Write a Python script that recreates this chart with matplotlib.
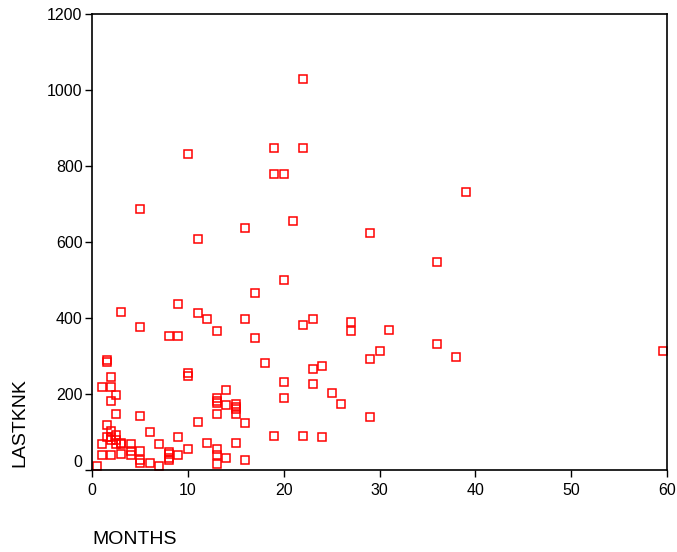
import matplotlib
matplotlib.use('Agg')
import matplotlib.pyplot as plt

plt.rcParams['font.family'] = ['Liberation Sans', 'DejaVu Sans']

# MONTHS vs LASTKNK
months = [22, 10, 19, 22, 19, 20, 39, 21, 5, 11, 16, 29, 36, 20, 17, 9, 3, 11, 12, 16,
          23, 27, 22, 27, 31, 5, 13, 8, 9, 17, 36, 30, 38, 29, 18, 24, 23, 20, 23, 25,
          20, 26, 29, 19, 22, 24, 59.6,
          1.5, 1.5, 2, 1, 2, 2.5, 2, 2.5, 1.5, 2, 1.5, 2, 2, 2.5, 2.5, 1, 2.5, 3, 3, 4,
          1, 2, 3, 4, 4, 0.5, 5, 5, 5, 5, 6, 6, 7, 7, 8, 8, 8, 8, 9, 9, 10, 10, 10,
          11, 12, 13, 13, 13, 13, 13, 13, 13, 14, 14, 14, 15, 15, 15, 15, 15, 16, 16]
lastknk = [1029, 831, 847, 847, 779, 779, 731, 656, 688, 608, 636, 624, 549, 501, 466,
           438, 417, 414, 398, 398, 398, 389, 382, 366, 370, 378, 366, 352, 352, 347,
           331, 314, 298, 294, 282, 275, 266, 231, 227, 203, 191, 175, 140, 91, 91, 88,
           314,
           290, 286, 246, 219, 219, 199, 183, 148, 119, 104, 88, 88, 80, 93, 80, 68, 68,
           71, 68, 68, 40, 40, 44, 52, 40, 12, 143, 52, 26, 20, 100, 20, 68, 12, 49, 42,
           33, 27, 88, 40, 255, 249, 56, 127, 72, 190, 183, 177, 148, 56, 40, 16, 211,
           171, 33, 175, 167, 161, 147, 72, 124, 28]

xticks = [0, 10, 20, 30, 40, 50, 60]
yticks = [0, 200, 400, 600, 800, 1000, 1200]

fig = plt.figure(figsize=(6.77, 5.52), dpi=100)
ax = fig.add_axes([0.1363, 0.148, 0.8487, 0.8266])

ax.plot(months, lastknk, linestyle='none', marker='s', markersize=5.2,
        markerfacecolor='none', markeredgecolor='#ff0000', markeredgewidth=1.1,
        clip_on=False)

ax.set_xlim(0, 60)
ax.set_ylim(0, 1200)
ax.set_xticks(xticks)
ax.set_yticks(yticks)
ax.tick_params(direction='out', length=5, width=1, labelsize=11.5, top=False, right=False)
ax.tick_params(axis='y', pad=2)
ax.tick_params(axis='x', pad=4)
for s in ax.spines.values():
    s.set_linewidth(1.2)

# SPSS puts the 0 label a little above the axis
ax.get_yticklabels()[0].set_va('bottom')

fig.text(92 / 677, 1 - 540 / 552, 'MONTHS', fontsize=14, ha='left', va='center')
fig.text(20 / 677, 1 - 423 / 552, 'LASTKNK', fontsize=14, rotation=90,
         ha='center', va='center')

fig.savefig('out.png', dpi=100)
